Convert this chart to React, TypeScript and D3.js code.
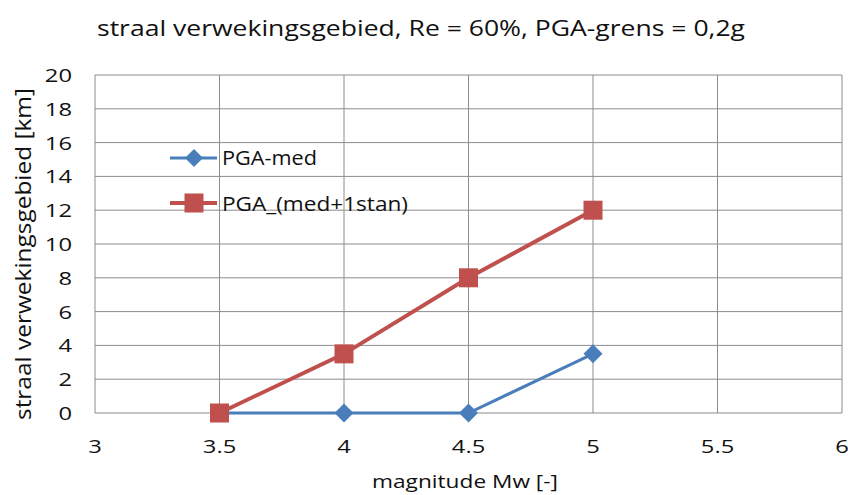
import React from "react";
import * as d3 from "d3";

const magnitudes = [3.5, 4, 4.5, 5];
const pgaMed = [0, 0, 0, 3.5];
const pgaMedStan = [0, 3.5, 8, 12];
const xTicks = [3, 3.5, 4, 4.5, 5, 5.5, 6];
const yTicks = [0, 2, 4, 6, 8, 10, 12, 14, 16, 18, 20];
const seriesNames = ["PGA-med", "PGA_(med+1stan)"];
const titleText = "straal verwekingsgebied, Re = 60%, PGA-grens = 0,2g";
const xTitle = "magnitude Mw [-]";
const yTitle = "straal verwekingsgebied [km]";

const W = 848;
const H = 495;
const FONT = "'Open Sans', 'Noto Sans', sans-serif";
const BLUE = "#4a7ebb";
const RED = "#c0504d";

export default function App() {
  const x = d3.scaleLinear().domain([3, 6]).range([95, 842]);
  const y = d3.scaleLinear().domain([0, 20]).range([413, 75]);
  const line = d3
    .line<[number, number]>()
    .x((d) => x(d[0]))
    .y((d) => y(d[1]));
  const medPts: [number, number][] = magnitudes.map((m, i) => [m, pgaMed[i]]);
  const stanPts: [number, number][] = magnitudes.map((m, i) => [m, pgaMedStan[i]]);

  const diamond = (cx: number, cy: number, r: number) =>
    `M${cx},${cy - r}L${cx + r},${cy}L${cx},${cy + r}L${cx - r},${cy}Z`;

  return (
    <svg
      width={W}
      height={H}
      style={{ position: "absolute", left: 0, top: 0, background: "#fff" }}
    >
      <rect width={W} height={H} fill="#fff" />
      <text
        x={97}
        y={36}
        fontFamily={FONT}
        fontSize={22}
        fill="#111"
        textLength={648}
        lengthAdjust="spacingAndGlyphs"
      >
        {titleText}
      </text>
      {/* grid */}
      {yTicks.map((t) => (
        <line
          key={"gy" + t}
          x1={x(3)}
          x2={x(6)}
          y1={y(t)}
          y2={y(t)}
          stroke="#8c8c8c"
          strokeWidth={1}
        />
      ))}
      {xTicks.map((t) => (
        <line
          key={"gx" + t}
          x1={x(t)}
          x2={x(t)}
          y1={y(0)}
          y2={y(20)}
          stroke="#8c8c8c"
          strokeWidth={1}
        />
      ))}
      {/* y tick labels */}
      {yTicks.map((t) => (
        <text
          key={"ly" + t}
          transform={`translate(72,${y(t) + 7}) scale(1.25,1)`}
          textAnchor="end"
          fontFamily={FONT}
          fontSize={19}
          fill="#111"
        >
          {t}
        </text>
      ))}
      {xTicks.map((t) => (
        <text
          key={"lx" + t}
          transform={`translate(${x(t)},453) scale(1.25,1)`}
          textAnchor="middle"
          fontFamily={FONT}
          fontSize={19}
          fill="#111"
        >
          {String(t)}
        </text>
      ))}
      <text
        x={372}
        y={488}
        fontFamily={FONT}
        fontSize={19}
        fill="#111"
        textLength={186}
        lengthAdjust="spacingAndGlyphs"
      >
        {xTitle}
      </text>
      <text
        transform={`translate(31,${254 + 166}) rotate(-90)`}
        fontFamily={FONT}
        fontSize={21}
        fill="#111"
        textLength={332}
        lengthAdjust="spacingAndGlyphs"
      >
        {yTitle}
      </text>
      {/* series */}
      <path d={line(medPts) || ""} fill="none" stroke={BLUE} strokeWidth={3} />
      <path d={line(stanPts) || ""} fill="none" stroke={RED} strokeWidth={4} />
      {medPts.map((p, i) => (
        <path key={"dm" + i} d={diamond(x(p[0]), y(p[1]), 9.5)} fill={BLUE} />
      ))}
      {stanPts.map((p, i) => (
        <rect
          key={"sq" + i}
          x={x(p[0]) - 9.5}
          y={y(p[1]) - 9.5}
          width={19}
          height={19}
          fill={RED}
        />
      ))}
      {/* legend */}
      <line x1={170} x2={217} y1={158} y2={158} stroke={BLUE} strokeWidth={3} />
      <path d={diamond(194, 158, 9)} fill={BLUE} />
      <text
        x={222}
        y={165}
        fontFamily={FONT}
        fontSize={20}
        fill="#111"
        textLength={95}
        lengthAdjust="spacingAndGlyphs"
      >
        {seriesNames[0]}
      </text>
      <line x1={170} x2={217} y1={203} y2={203} stroke={RED} strokeWidth={4} />
      <rect x={184.5} y={193.5} width={19} height={19} fill={RED} />
      <text
        x={222}
        y={211}
        fontFamily={FONT}
        fontSize={20}
        fill="#111"
        textLength={186}
        lengthAdjust="spacingAndGlyphs"
      >
        {seriesNames[1]}
      </text>
    </svg>
  );
}
